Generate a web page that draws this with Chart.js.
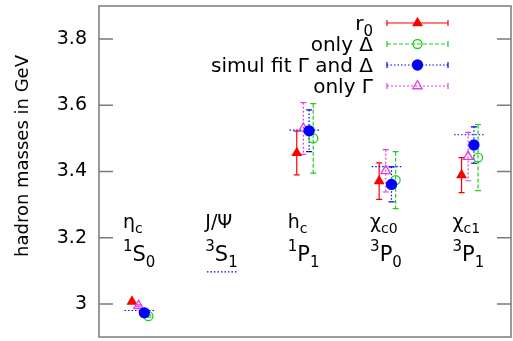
<!DOCTYPE html>
<html>
<head>
<meta charset="utf-8">
<script src="https://cdn.jsdelivr.net/npm/chart.js@4.4.1/dist/chart.umd.min.js"></script>
<style>
    body { margin: 0; background: #fff; }
</style>
</head>
<body>
<canvas id="chart" width="513" height="341"></canvas>
<script>
// positions of the five charmonium states on the x axis
const xPos = [0.5, 1.5, 2.5, 3.5, 4.5];
// label lines: [name, subscript] and [superscript, letter, subscript]
const stateNames = [["η", "c"], ["J/Ψ", ""], ["h", "c"], ["χ", "c0"], ["χ", "c1"]];
const stateTerms = [["1", "S", "0"], ["3", "S", "1"], ["1", "P", "1"], ["3", "P", "0"], ["3", "P", "1"]];

// masses in GeV with errors (null = no value)
const r0Mass = [3.007, null, 3.456, 3.371, 3.389];
const r0Err = [0.003, null, 0.066, 0.055, 0.053];
const deltaMass = [2.963, null, 3.500, 3.374, 3.442];
const deltaErr = [0.003, null, 0.105, 0.086, 0.100];
const simulMass = [2.973, null, 3.523, 3.361, 3.480];
const simulErr = [0.003, null, 0.063, 0.053, 0.055];
const gammaMass = [2.994, null, 3.530, 3.402, 3.445];
const gammaErr = [0.003, null, 0.078, 0.064, 0.073];
// experimental masses (dotted horizontal lines)
const expMass = [2.980, 3.097, 3.525, 3.415, 3.511];

const yTicks = [3, 3.2, 3.4, 3.6, 3.8];

const FONT = "'DejaVu Sans', sans-serif";
const FRAME = "#7a7a7a";

const series = [
    { text: [["r", 0], ["0", 1]], mass: r0Mass, err: r0Err, shift: -0.1, color: "#ff0000",
      style: "triangle", fill: true, radius: 5, dash: [], order: 4 },
    { text: [["only Δ", 0]], mass: deltaMass, err: deltaErr, shift: 0.1, color: "#22cc22",
      style: "circle", fill: false, radius: 4.5, dash: [4, 2], order: 3 },
    { text: [["simul fit Γ and Δ", 0]], mass: simulMass, err: simulErr, shift: 0.05, color: "#0000ff",
      style: "circle", fill: true, radius: 5, dash: [1.5, 2], order: 1 },
    { text: [["only Γ", 0]], mass: gammaMass, err: gammaErr, shift: -0.02, color: "#e040e0",
      style: "triangle", fill: false, radius: 5.5, dash: [2, 2], order: 2 },
];

function points(s) {
    let out = [];
    xPos.forEach((x, i) => {
        if (s.mass[i] !== null) out.push({ x: x + s.shift, y: s.mass[i], err: s.err[i] });
    });
    return out;
}

let datasets = series.map((s) => ({
    data: points(s),
    borderColor: s.color,
    backgroundColor: s.fill ? s.color : "rgba(0,0,0,0)",
    pointStyle: s.style,
    pointRadius: s.radius,
    pointBorderWidth: 1.3,
    errDash: s.dash,
    order: s.order,
}));

let expData = [];
xPos.forEach((x, i) => {
    expData.push({ x: x - 0.19, y: expMass[i] });
    expData.push({ x: x + 0.19, y: expMass[i] });
    expData.push({ x: x + 0.2, y: null });
});
datasets.push({
    data: expData,
    showLine: true,
    spanGaps: false,
    borderColor: "#0000ff",
    borderWidth: 1.2,
    borderDash: [1.5, 2],
    pointRadius: 0,
    order: 5,
});

function drawMarker(ctx, s, x, y) {
    ctx.save();
    ctx.setLineDash([]);
    ctx.lineWidth = 1.3;
    ctx.strokeStyle = s.color;
    ctx.fillStyle = s.color;
    ctx.beginPath();
    if (s.style === "triangle") {
        let a = 0;
        for (let k = 0; k < 3; k++) {
            let px = x + Math.sin(a) * s.radius, py = y - Math.cos(a) * s.radius;
            if (k === 0) ctx.moveTo(px, py); else ctx.lineTo(px, py);
            a += Math.PI * 2 / 3;
        }
        ctx.closePath();
    } else {
        ctx.arc(x, y, s.radius, 0, Math.PI * 2);
    }
    if (s.fill) ctx.fill();
    ctx.stroke();
    ctx.restore();
}

// draw text made of parts; kind 0 = normal, 1 = subscript, 2 = superscript
function richWidth(ctx, parts, size, small) {
    let w = 0;
    parts.forEach(([t, kind]) => {
        ctx.font = (kind ? small : size) + "px " + FONT;
        w += ctx.measureText(t).width;
    });
    return w;
}
function drawRich(ctx, parts, x, y, size, small) {
    parts.forEach(([t, kind]) => {
        ctx.font = (kind ? small : size) + "px " + FONT;
        let dy = kind === 1 ? size * 0.28 : kind === 2 ? -size * 0.5 : 0;
        ctx.fillText(t, x, y + dy);
        x += ctx.measureText(t).width;
    });
}

const errorBars = {
    id: "errorBars",
    beforeDatasetsDraw(chart) {
        const ctx = chart.ctx, ys = chart.scales.y;
        chart.data.datasets.forEach((ds, di) => {
            if (!ds.errDash) return;
            const meta = chart.getDatasetMeta(di);
            ctx.save();
            ctx.strokeStyle = ds.borderColor;
            ctx.lineWidth = 1.2;
            meta.data.forEach((pt, i) => {
                const d = ds.data[i];
                const top = ys.getPixelForValue(d.y + d.err);
                const bot = ys.getPixelForValue(d.y - d.err);
                ctx.setLineDash(ds.errDash);
                ctx.beginPath();
                ctx.moveTo(pt.x, top);
                ctx.lineTo(pt.x, bot);
                ctx.stroke();
                ctx.setLineDash([]);
                ctx.beginPath();
                ctx.moveTo(pt.x - 3, top); ctx.lineTo(pt.x + 3, top);
                ctx.moveTo(pt.x - 3, bot); ctx.lineTo(pt.x + 3, bot);
                ctx.stroke();
            });
            ctx.restore();
        });
    },
};

const decorations = {
    id: "decorations",
    afterDraw(chart) {
        const ctx = chart.ctx, a = chart.chartArea;
        const xs = chart.scales.x, ys = chart.scales.y;
        ctx.save();
        // frame and inward ticks
        ctx.strokeStyle = FRAME;
        ctx.lineWidth = 1.5;
        ctx.strokeRect(a.left, a.top, a.right - a.left, a.bottom - a.top);
        ctx.beginPath();
        yTicks.forEach((v) => {
            const py = ys.getPixelForValue(v);
            ctx.moveTo(a.left, py); ctx.lineTo(a.left + 14, py);
            ctx.moveTo(a.right, py); ctx.lineTo(a.right - 14, py);
        });
        ctx.stroke();

        ctx.fillStyle = "#000";
        ctx.textBaseline = "alphabetic";
        ctx.textAlign = "left";
        // state labels
        xPos.forEach((x, i) => {
            const left = xs.getPixelForValue(x - 0.21);
            const [nm, sub] = stateNames[i];
            drawRich(ctx, [[nm, 0], [sub, 1]], left, 228, 19, 14);
            const [sup, letter, sub2] = stateTerms[i];
            drawRich(ctx, [[sup, 2], [letter, 0], [sub2, 1]], left, 261, 21, 15);
        });

        // legend
        const rows = [23, 44, 65, 86];
        series.forEach((s, i) => {
            const y = rows[i];
            const w = richWidth(ctx, s.text, 20, 15);
            drawRich(ctx, s.text, 373 - w, y + 7, 20, 15);
            ctx.strokeStyle = s.color;
            ctx.lineWidth = 1.2;
            ctx.setLineDash(s.dash);
            ctx.beginPath();
            ctx.moveTo(387, y); ctx.lineTo(448, y);
            ctx.stroke();
            ctx.setLineDash([]);
            ctx.beginPath();
            ctx.moveTo(387, y - 3); ctx.lineTo(387, y + 3);
            ctx.moveTo(448, y - 3); ctx.lineTo(448, y + 3);
            ctx.stroke();
            drawMarker(ctx, s, 417.5, y);
        });

        // y axis title
        ctx.translate(23, 156);
        ctx.rotate(-Math.PI / 2);
        ctx.textAlign = "center";
        ctx.textBaseline = "middle";
        ctx.font = "18px " + FONT;
        ctx.fillText("hadron masses in GeV", 0, 0);
        ctx.restore();
    },
};

new Chart(document.getElementById("chart"), {
    type: "scatter",
    data: { datasets: datasets },
    options: {
        responsive: false,
        animation: false,
        events: [],
        layout: { autoPadding: false, padding: { left: 0, top: 6, right: 2, bottom: 4 } },
        plugins: { legend: { display: false }, tooltip: { enabled: false } },
        scales: {
            x: { type: "linear", min: 0, max: 5, display: false },
            y: {
                min: 2.9,
                max: 3.9,
                grid: { display: false, drawTicks: false },
                border: { display: false },
                afterFit: (s) => {
                    s.width = 99;
                    s.paddingTop = 0;
                    s.paddingBottom = 0;
                },
                afterBuildTicks: (s) => { s.ticks = yTicks.map((v) => ({ value: v })); },
                ticks: {
                    padding: 12,
                    color: "#000",
                    font: { family: "'DejaVu Sans'", size: 19 },
                    callback: (v) => String(+Number(v).toFixed(1)),
                },
            },
        },
    },
    plugins: [errorBars, decorations],
});
</script>
</body>
</html>
